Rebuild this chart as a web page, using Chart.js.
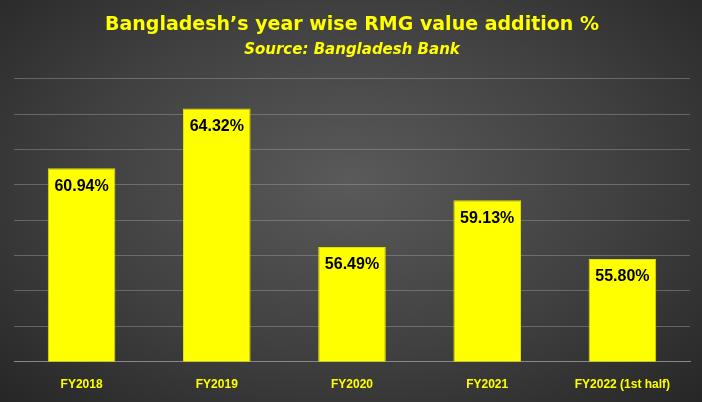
<!DOCTYPE html>
<html lang="en">
<head>
    <meta charset="UTF-8">
    <title>RMG value addition</title>
    <script src="https://cdn.jsdelivr.net/npm/chart.js"></script>
    <style>
        html, body { margin: 0; padding: 0; }
        body {
            width: 702px; height: 402px; overflow: hidden;
            background: radial-gradient(ellipse at 50% 45%, #5a5a5a 0%, #404040 55%, #262626 100%);
        }
        .wrap { position: relative; width: 702px; height: 402px; }
    </style>
</head>
<body>
    <div class="wrap"><canvas id="rmgChart"></canvas></div>
    <script>
        const years = ['FY2018', 'FY2019', 'FY2020', 'FY2021', 'FY2022 (1st half)'];
        const valueAddition = [60.94, 64.32, 56.49, 59.13, 55.80];

        // draws the % label just inside the top of each bar
        const barLabels = {
            id: 'barLabels',
            afterDatasetsDraw(chart) {
                const ctx = chart.ctx;
                const meta = chart.getDatasetMeta(0);
                ctx.save();
                ctx.font = 'bold 16px "Liberation Sans", Arial, sans-serif';
                ctx.fillStyle = '#000';
                ctx.textAlign = 'center';
                ctx.textBaseline = 'middle';
                meta.data.forEach((bar, i) => {
                    ctx.fillText(valueAddition[i].toFixed(2) + '%', bar.x, bar.y + 18);
                });
                ctx.restore();
            }
        };

        new Chart(document.getElementById('rmgChart'), {
            type: 'bar',
            data: {
                labels: years,
                datasets: [{
                    data: valueAddition,
                    backgroundColor: '#ffff00',
                    borderColor: '#e0e000',
                    borderWidth: 1,
                    barPercentage: 0.5,
                    categoryPercentage: 1
                }]
            },
            options: {
                responsive: true,
                maintainAspectRatio: false,
                animation: false,
                layout: { padding: { left: 14, right: 12, top: 0, bottom: 2 } },
                plugins: {
                    legend: { display: false },
                    tooltip: { enabled: false },
                    title: {
                        display: true,
                        text: 'Bangladesh\u2019s year wise RMG value addition %',
                        color: '#ffff00',
                        font: { family: '"DejaVu Sans", Verdana, sans-serif', size: 19, weight: 'bold' },
                        padding: { top: 14, bottom: 4 }
                    },
                    subtitle: {
                        display: true,
                        text: 'Source: Bangladesh Bank',
                        color: '#ffff00',
                        font: { family: '"DejaVu Sans", Verdana, sans-serif', size: 15, weight: 'bold', style: 'italic' },
                        padding: { bottom: 20 }
                    }
                },
                scales: {
                    x: {
                        grid: { display: false },
                        border: { color: '#888' },
                        ticks: {
                            color: '#ffff00',
                            font: { family: '"Liberation Sans", Arial, sans-serif', size: 12, weight: 'bold' },
                            padding: 8
                        }
                    },
                    y: {
                        min: 50,
                        max: 66,
                        ticks: { stepSize: 2, display: false },
                        grid: { color: 'rgba(160,160,160,0.45)', drawTicks: false },
                        border: { display: false }
                    }
                }
            },
            plugins: [barLabels]
        });
    </script>
</body>
</html>
